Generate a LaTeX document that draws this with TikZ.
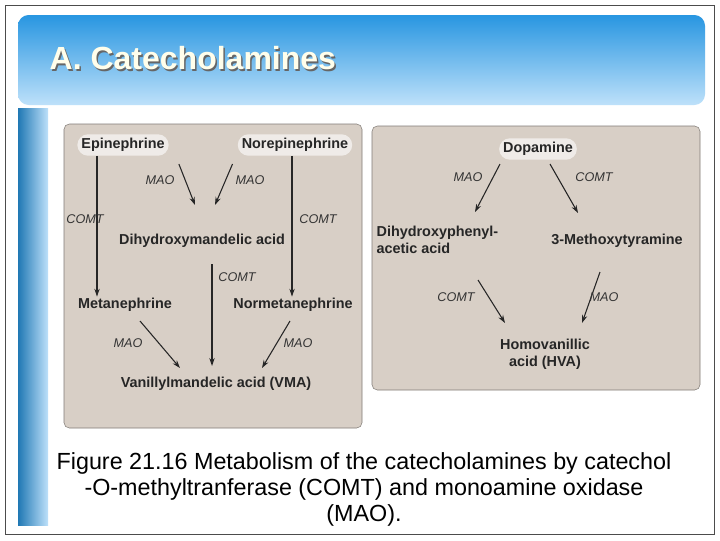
\documentclass[tikz,border=0pt]{standalone}
\usepackage{fontspec}
\setmainfont{Liberation Sans}
\usetikzlibrary{arrows.meta}
\definecolor{panel}{RGB}{216,207,198}
\definecolor{barblue}{RGB}{40,150,225}
\definecolor{barlight}{RGB}{190,225,250}
\tikzset{cmp/.style={font=\bfseries\fontsize{10.8}{13}\selectfont, text=black!85, inner sep=1pt},
  glow/.style={cmp, fill=white, fill opacity=.6, text opacity=1, rounded corners=8pt, inner sep=3pt},
  enz/.style={font=\itshape\fontsize{9.5}{10}\selectfont, text=black!80},
  rx/.style={-{Stealth[length=6pt,width=4pt]}, thick, black!85}}
\begin{document}
\begin{tikzpicture}[x=0.75pt,y=-0.75pt]
\useasboundingbox (0,0) rectangle (720,540);
\fill[white] (0,0) rectangle (720,540);
\draw[black!70] (5,5) rectangle (714,534);
% title bar
\shade[top color=barblue, bottom color=barlight, rounded corners=8pt] (18,15) rectangle (705,105);
\node[anchor=west, font=\bfseries\fontsize{24}{28}\selectfont, text=black!60] at (46.5,60) {A. Catecholamines};
\node[anchor=west, font=\bfseries\fontsize{24}{28}\selectfont, text=yellow!8] at (45,58) {A. Catecholamines};
\shade[left color=barblue!80!black, right color=barlight] (18,108) rectangle (48,525);
% panels
\draw[panel!60!black, fill=panel, rounded corners=4pt] (64,124) rectangle (362,428);
\draw[panel!60!black, fill=panel, rounded corners=4pt] (372,126) rectangle (700,390);

% left panel
\node[glow] (epi) at (123,145) {Epinephrine};
\node[glow] (nepi) at (295,145) {Norepinephrine};
\node[cmp] (dhma) at (202,241) {Dihydroxymandelic acid};
\node[cmp] (met) at (125,305) {Metanephrine};
\node[cmp] (nmet) at (293,305) {Normetanephrine};
\node[cmp] (vma) at (216,384) {Vanillylmandelic acid (VMA)};

\draw[rx] (epi.south -| 97,0) -- (met.north -| 97,0);
\node[enz] at (85,219) {COMT};
\draw[rx] (nepi.south -| 292,0) -- (nmet.north -| 292,0);
\node[enz] at (318,219) {COMT};
\draw[rx] (epi.south east) ++(10,8) -- (195,205);
\node[enz] at (160,180) {MAO};
\draw[rx] (nepi.south west) ++(-5,8) -- (215,205);
\node[enz] at (250,180) {MAO};
\draw[rx] (dhma.south -| 212,0) ++(0,15) -- (212,366);
\node[enz] at (237,277) {COMT};
\draw[rx] (140,321) -- (180,368);
\node[enz] at (128,343) {MAO};
\draw[rx] (290,321) -- (262,368);
\node[enz] at (298,343) {MAO};

% right panel
\node[glow] (dop) at (538,149) {Dopamine};
\node[cmp, align=left, anchor=west] (dopac) at (375,240) {Dihydroxyphenyl-\\acetic acid};
\node[cmp] (mtyr) at (617,241) {3-Methoxytyramine};
\node[cmp, align=center] (hva) at (545,354) {Homovanillic\\acid (HVA)};

\draw[rx] (500,164) -- (475,212);
\node[enz] at (468,177) {MAO};
\draw[rx] (550,164) -- (578,213);
\node[enz] at (594,177) {COMT};
\draw[rx] (478,280) -- (505,323);
\node[enz] at (456,297) {COMT};
\draw[rx] (600,272) -- (582,323);
\node[enz] at (604,297) {MAO};

% caption
\node[align=center, font=\fontsize{17.5}{19.5}\selectfont] (cap) at (364,489)
  {Figure 21.16 Metabolism of the catecholamines by catechol\\-O-methyltranferase (COMT) and monoamine oxidase\\(MAO).};
\end{tikzpicture}
\end{document}
